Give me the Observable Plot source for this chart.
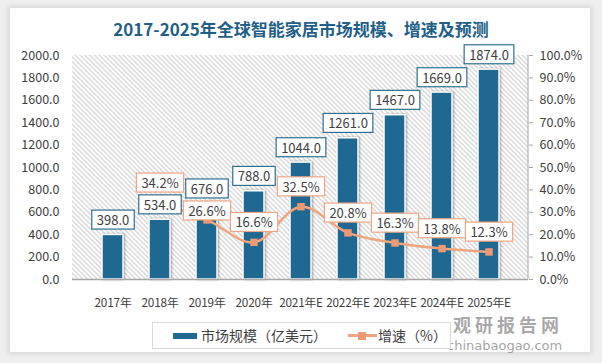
<!DOCTYPE html>
<html>
<head>
<meta charset="utf-8">
<script src="https://cdn.jsdelivr.net/npm/d3@7"></script>
<script src="https://cdn.jsdelivr.net/npm/@observablehq/plot@0.6"></script>
<style>
  html, body { margin: 0; padding: 0; }
  body { width: 602px; height: 363px; overflow: hidden; background: #efefef; font-family: "Noto Sans CJK SC", "Noto Sans", sans-serif; }
  #wrap { position: relative; width: 602px; height: 363px; }
  #card { position: absolute; left: 10px; top: 8px; width: 580px; height: 344px; background: #fff; box-shadow: 0 0 5px 2px rgba(0,0,0,0.10); }
  #title { position: absolute; left: 0; top: 17px; width: 602px; text-align: center; font-size: 17px; font-weight: bold; color: #1f5f88; line-height: 24px; }
  #chart { position: absolute; left: 0; top: 40px; }
  #legend { position: absolute; left: 152px; top: 322px; width: 297px; height: 25px; border: 1px solid #d9d9d9; background: #fff; font-size: 14px; color: #404040; }
  #legend .item { position: absolute; top: 0; height: 25px; line-height: 25px; white-space: nowrap; }
  #legend .sw-bar { position: absolute; width: 24px; height: 6px; top: 10px; background: #1e6891; }
  #legend .sw-line { position: absolute; width: 29px; height: 3px; top: 11px; background: #f0a57f; }
  #legend .sw-mark { position: absolute; width: 8px; height: 8px; top: 8.5px; background: #ec9a74; }
  #wm1 { position: absolute; left: 453px; top: 311px; font-size: 18px; font-weight: bold; letter-spacing: 4px; color: rgba(140,140,140,0.75); line-height: 26px; white-space: nowrap; }
  #wm2 { position: absolute; left: 447px; top: 337.5px; font-family: "DejaVu Sans", sans-serif; font-size: 13px; color: rgba(140,140,140,0.8); line-height: 15px; white-space: nowrap; }
</style>
</head>
<body>
<div id="wrap">
  <div id="card"></div>
  <div id="title">2017-2025年全球智能家居市场规模、增速及预测</div>
  <div id="chart"></div>
  <div id="wm1">观研报告网</div>
  <div id="wm2">chinabaogao.com</div>
  <div id="legend">
    <div class="sw-bar" style="left:20px"></div>
    <div class="item" style="left:48px">市场规模（亿美元）</div>
    <div class="sw-line" style="left:195px"></div>
    <div class="sw-mark" style="left:205px"></div>
    <div class="item" style="left:225px">增速（%）</div>
  </div>
</div>
<script>
// ---- data ----
const years = ["2017年", "2018年", "2019年", "2020年", "2021年E", "2022年E", "2023年E", "2024年E", "2025年E"];
const marketSize = [398.0, 534.0, 676.0, 788.0, 1044.0, 1261.0, 1467.0, 1669.0, 1874.0];
const growthYears = ["2018年", "2019年", "2020年", "2021年E", "2022年E", "2023年E", "2024年E", "2025年E"];
const growth = [34.2, 26.6, 16.6, 32.5, 20.8, 16.3, 13.8, 12.3];
const sizeTicks = [0, 200, 400, 600, 800, 1000, 1200, 1400, 1600, 1800, 2000];
const pctTicks = [0, 10, 20, 30, 40, 50, 60, 70, 80, 90, 100];
const sizeMax = 2000;
const pctMax = 100;

// ---- derived tables ----
const k = sizeMax / pctMax; // percent -> left-axis units
const bars = years.map((y, i) => ({year: y, value: marketSize[i]}));
const rates = growthYears.map((y, i) => ({year: y, rate: growth[i], yv: growth[i] * k}));

const BAR = "#1e6891";
const LINE = "#f0a57f";
const MARK = "#ec9a74";

const background = (index, scales, values, dims) => {
  const g = d3.create("svg:g");
  const pat = g.append("defs").append("pattern")
    .attr("id", "hatch").attr("patternUnits", "userSpaceOnUse")
    .attr("width", 3.4).attr("height", 3.4).attr("patternTransform", "rotate(-45)");
  pat.append("rect").attr("width", 3.4).attr("height", 3.4).attr("fill", "#fff");
  pat.append("line").attr("x1", 1.7).attr("x2", 1.7).attr("y1", 0).attr("y2", 3.4)
    .attr("stroke", "#cdcdcd").attr("stroke-width", 1.1);
  g.append("rect")
    .attr("x", dims.marginLeft).attr("y", dims.marginTop)
    .attr("width", dims.width - dims.marginLeft - dims.marginRight)
    .attr("height", dims.height - dims.marginTop - dims.marginBottom)
    .attr("fill", "url(#hatch)");
  return g.node();
};

const rightLine = (index, scales, values, dims) => {
  const x = dims.width - dims.marginRight;
  return d3.create("svg:line")
    .attr("x1", x).attr("x2", x)
    .attr("y1", dims.marginTop).attr("y2", dims.height - dims.marginBottom)
    .attr("stroke", "#a6a6a6").attr("stroke-width", 1).node();
};

const chart = Plot.plot({
  width: 602,
  height: 280,
  marginTop: 15,
  marginBottom: 41,
  marginLeft: 72,
  marginRight: 74,
  style: {fontFamily: "'Noto Sans CJK SC', 'Noto Sans', sans-serif", fontSize: "12.5px", color: "#404040", background: "transparent", overflow: "visible"},
  x: {domain: years, padding: 0.56, label: null},
  y: {domain: [0, sizeMax], label: null},
  marks: [
    background,
    Plot.barY(bars, {x: "year", y: "value", fill: BAR, stroke: "#fff", strokeWidth: 1.5}),
    Plot.ruleY([0], {stroke: "#a6a6a6", strokeWidth: 1.5}),
    rightLine,
    Plot.axisX({tickSize: 0, tickPadding: 19, fontSize: 11.8, label: null}),
    Plot.axisY({ticks: sizeTicks, tickFormat: d => d.toFixed(1), tickSize: 0, tickPadding: 13, label: null}),
    Plot.axisY({anchor: "right", ticks: pctTicks.map(p => p * k), tickFormat: d => (d / k).toFixed(1) + "%", tickSize: 4, tickPadding: 7, stroke: "#a6a6a6", label: null}),
    Plot.line(rates, {x: "year", y: "yv", stroke: LINE, strokeWidth: 2.5, curve: "catmull-rom"}),
    Plot.dot(rates, {x: "year", y: "yv", symbol: "square", r: 4.2, fill: MARK, stroke: null}),
    Plot.text(bars, {x: "year", y: "value", text: d => d.value.toFixed(1), dy: -14, fontSize: 13, fill: "#404040"}),
    Plot.text(rates, {x: "year", y: "yv", text: d => d.rate.toFixed(1) + "%", dy: -19, fontSize: 13, fill: "#404040"})
  ]
});

document.getElementById("chart").appendChild(chart);

// tighten x tick labels so neighbouring labels do not collide
const xg = chart.querySelector('g[aria-label="x-axis tick label"]');
if (xg) { xg.setAttribute("font-size", "11.8"); xg.style.fontSize = "11.8px"; xg.setAttribute("letter-spacing", "-0.2"); }

// text mark groups in order: [0] bar value labels, [1] growth labels
const textGroups = [...chart.querySelectorAll('g[aria-label="text"]')];
const barLabelG = textGroups[0];
const rateLabelG = textGroups[1];

function boxLabels(group, stroke) {
  if (!group) return;
  [...group.querySelectorAll("text")].forEach(t => {
    const b = t.getBBox();
    const r = document.createElementNS("http://www.w3.org/2000/svg", "rect");
    r.setAttribute("x", b.x - 5);
    r.setAttribute("y", b.y);
    r.setAttribute("width", b.width + 10);
    r.setAttribute("height", b.height);
    r.setAttribute("fill", "#fff");
    r.setAttribute("stroke", stroke);
    r.setAttribute("stroke-width", 1.2);
    const tr = t.getAttribute("transform");
    if (tr) r.setAttribute("transform", tr);
    t.parentNode.insertBefore(r, t);
  });
}
boxLabels(barLabelG, "#2f7090");
boxLabels(rateLabelG, "#eea585");

// nudge growth labels that collide with bar labels (as the original's auto placement does)
if (barLabelG && rateLabelG) {
  const barBoxes = [...barLabelG.querySelectorAll("rect")].map(r => r.getBoundingClientRect());
  [...rateLabelG.querySelectorAll("rect")].forEach(r => {
    const b = r.getBoundingClientRect();
    for (const o of barBoxes) {
      if (b.left < o.right && b.right > o.left && b.top < o.bottom && b.bottom > o.top) {
        const shift = o.bottom + 3 - b.top;
        [r, r.nextSibling].forEach(el => el.setAttribute("transform", `translate(0,${shift}) ` + (el.getAttribute("transform") || "")));
        break;
      }
    }
  });
}

const bg = chart.querySelector('g[aria-label="bar"]');
if (bg) bg.style.filter = "drop-shadow(1.5px 0.5px 1px rgba(0,0,0,0.35))";
</script>
</body>
</html>
